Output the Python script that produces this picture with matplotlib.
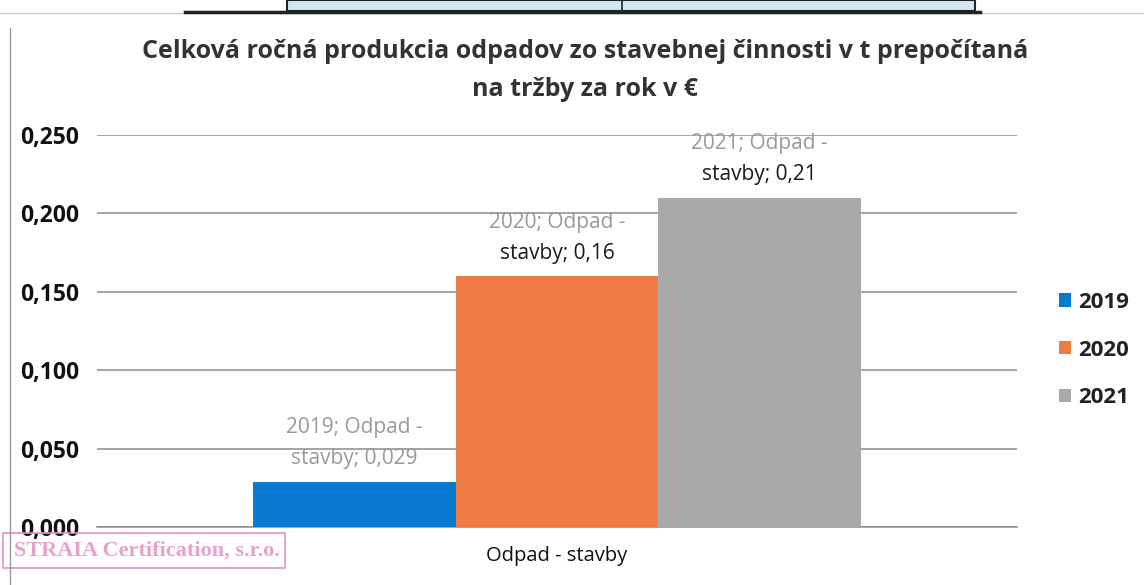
import matplotlib
matplotlib.use("Agg")
import matplotlib.pyplot as plt
from matplotlib.patches import Rectangle

plt.rcParams['font.family'] = ['Open Sans', 'DejaVu Sans']

category = "Odpad - stavby"
years = ["2019", "2020", "2021"]
values = [0.029, 0.16, 0.21]
value_labels = ["0,029", "0,16", "0,21"]
colors = ["#0a7ad1", "#ef7b45", "#a9a9a9"]
yticks = [0.0, 0.05, 0.10, 0.15, 0.20, 0.25]
ytick_labels = ["0,000", "0,050", "0,100", "0,150", "0,200", "0,250"]

W, H = 1144, 585
fig = plt.figure(figsize=(W / 100, H / 100), dpi=100)
fig.patch.set_facecolor("white")

# plot area: x 97..1017, y 135..527 (pixels)
ax = fig.add_axes([97 / W, 1 - 527 / H, (1017 - 97) / W, (527 - 135) / H])
width = 0.22
offsets = [-width, 0, width]
for yr, v, c, off, lab in zip(years, values, colors, offsets, value_labels):
    ax.bar(off, v, width=width, color=c, label=yr, zorder=3)
    gray_line = "#9a9a9a"
    second_col = "#9a9a9a" if yr == "2019" else "#1a1a1a"
    ax.text(off, v + 0.0345, f"{yr}; Odpad -", ha="center", va="center",
            fontsize=15, color=gray_line, zorder=4)
    ax.text(off, v + 0.0145, f"stavby; {lab}", ha="center", va="center",
            fontsize=15, color=second_col, zorder=4)

ax.set_xlim(-0.5, 0.5)
ax.set_ylim(0, 0.25)
ax.set_yticks(yticks)
ax.set_yticklabels(ytick_labels, fontsize=16.5, fontweight="bold", color="#111111")
ax.set_xticks([0])
ax.set_xticklabels([category], fontsize=14.5, color="#111111")
ax.tick_params(axis="y", length=0, pad=13)
ax.tick_params(axis="x", length=0, pad=14)
ax.grid(axis="y", color="#8c8c8c", linewidth=1.1, zorder=0)
for s in ["top", "right", "left"]:
    ax.spines[s].set_visible(False)
ax.spines["bottom"].set_color("#8c8c8c")
ax.spines["bottom"].set_linewidth(1.1)

leg = ax.legend(loc="center left", bbox_to_anchor=((1050 - 97) / (1017 - 97), (527 - 350) / 392),
                frameon=False, fontsize=16, handlelength=0.55, handleheight=0.55,
                handletextpad=0.3, labelspacing=1.2, borderaxespad=0)
for t in leg.get_texts():
    t.set_fontweight("bold")
    t.set_color("#222222")

fig.text(585 / W, 1 - 52 / H, "Celková ročná produkcia odpadov zo stavebnej činnosti v t prepočítaná",
         ha="center", va="center", fontsize=18, fontweight="bold", color="#333333")
fig.text(585 / W, 1 - 90 / H, "na tržby za rok v €",
         ha="center", va="center", fontsize=18, fontweight="bold", color="#333333")

# scan frame / table fragment
fig.add_artist(plt.Line2D([10 / W, 10 / W], [0, 1 - 28 / H], transform=fig.transFigure,
                          color="#9a9a9a", lw=1))
fig.add_artist(plt.Line2D([0, 1], [1 - 13 / H, 1 - 13 / H], transform=fig.transFigure,
                          color="#c8c8c8", lw=1))
fig.add_artist(Rectangle((287 / W, 1 - 11 / H), (975 - 287) / W, 11 / H, transform=fig.transFigure,
                         facecolor="#cfe8f8", edgecolor="#222222", lw=1.5))
fig.add_artist(plt.Line2D([185 / W, 980 / W], [1 - 12 / H, 1 - 12 / H], transform=fig.transFigure,
                          color="#222222", lw=2.5))
fig.add_artist(plt.Line2D([622 / W, 622 / W], [1 - 12 / H, 1], transform=fig.transFigure,
                          color="#222222", lw=1.2))

# stamp
fig.add_artist(Rectangle((3 / W, 1 - 568 / H), (285 - 3) / W, (568 - 533) / H, transform=fig.transFigure,
                         facecolor="none", edgecolor="#e58fc4", lw=1.2))
fig.text(14 / W, 1 - 551 / H, "STRAIA Certification, s.r.o.", ha="left", va="center",
         fontsize=16, fontfamily="Liberation Serif", fontweight="bold", color="#e58fc4", alpha=0.85)

fig.savefig("out.png", dpi=100, facecolor="white")
